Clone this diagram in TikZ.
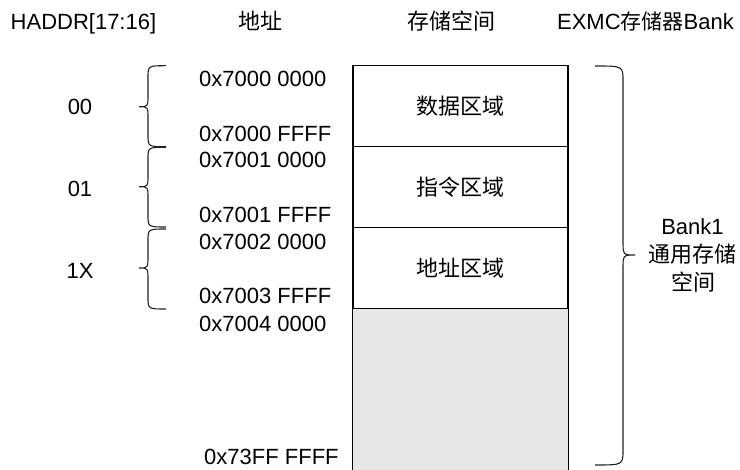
\documentclass[tikz,border=0pt]{standalone}
\usepackage{fontspec}
\setmainfont{Liberation Sans}
\newfontfamily\cjk{Noto Sans CJK SC}
\definecolor{boxgray}{HTML}{E6E6E6}
\definecolor{linegray}{HTML}{222222}
\tikzset{
  hdr/.style={font=\fontsize{22}{26}\selectfont, inner sep=0pt},
  addr/.style={font=\fontsize{22}{26}\selectfont, inner sep=0pt, anchor=base west},
  bits/.style={font=\fontsize{22}{26}\selectfont, inner sep=0pt},
  region/.style={draw=black, line width=1.3pt, fill=white, minimum width=215pt, minimum height=81pt, inner sep=0pt, font=\cjk\fontsize{22}{26}\selectfont},
  cjklbl/.style={font=\cjk\fontsize{22}{26}\selectfont, inner sep=0pt},
  bracelin/.style={draw=linegray, line width=1.1pt},
}
\begin{document}
\begin{tikzpicture}[x=1pt, y=-1pt]
\useasboundingbox (0,0) rectangle (740,470);
% headers
\node[hdr, anchor=base west] (h1) at (10.5,30) {HADDR[17:16]};
\node[cjklbl] (h2) at (260,21) {地址};
\node[cjklbl] (h3) at (451,21) {存储空间};
\node[hdr, anchor=base east] (h4) at (734,30) {EXMC{\cjk\fontsize{21}{25}\selectfont 存储器}Bank};
% memory column
\node[fill=boxgray, minimum width=215pt, minimum height=165pt, inner sep=0pt, anchor=north] (r4) at (460.5,309) {};
\draw[black, line width=1.3pt] (r4.north west) -- (r4.south west);
\draw[black, line width=1.3pt] (r4.north east) -- (r4.south east);
\node[region] (r1) at (460.5,106.3) {数据区域};
\node[region] (r2) at (460.5,187.3) {指令区域};
\node[region] (r3) at (460.5,268.3) {地址区域};
% addresses
\node[addr] (a1) at (199,87) {0x7000 0000};
\node[addr] (a2) at (199,142) {0x7000 FFFF};
\node[addr] (a3) at (199,168) {0x7001 0000};
\node[addr] (a4) at (199,223) {0x7001 FFFF};
\node[addr] (a5) at (199,250) {0x7002 0000};
\node[addr] (a6) at (199,304) {0x7003 FFFF};
\node[addr] (a7) at (199,332) {0x7004 0000};
\node[addr] (a8) at (204,465) {0x73FF FFFF};
% bit labels
\node[bits] (b1) at (80,106.5) {00};
\node[bits] (b2) at (80,189) {01};
\node[bits] (b3) at (80,270.5) {1X};
% left braces
\draw[bracelin] (166,65.7) .. controls (148,65.7) .. (148,78) -- (148,94.7) .. controls (148,106.7) .. (139,106.7) .. controls (148,106.7) .. (148,118.7) -- (148,134.7) .. controls (148,146.7) .. (166,146.7);
\draw[bracelin] (166,147.3) .. controls (148,147.3) .. (148,159.3) -- (148,174.7) .. controls (148,186.7) .. (139,186.7) .. controls (148,186.7) .. (148,198.7) -- (148,215) .. controls (148,227) .. (166,227);
\draw[bracelin] (166,229) .. controls (148,229) .. (148,241) -- (148,256) .. controls (148,268) .. (139,268) .. controls (148,268) .. (148,280) -- (148,297) .. controls (148,309) .. (166,309);
% right brace
\draw[bracelin] (595,66) .. controls (623,66) .. (623,81) -- (623,240) .. controls (623,255) .. (635,255) .. controls (623,255) .. (623,270) -- (623,450) .. controls (623,465) .. (595,465);
% bank label
\node[bits, anchor=base] (k1) at (692.5,235) {Bank1};
\node[cjklbl] (k2) at (692,254) {通用存储};
\node[cjklbl] (k3) at (693,282) {空间};
\end{tikzpicture}
\end{document}
